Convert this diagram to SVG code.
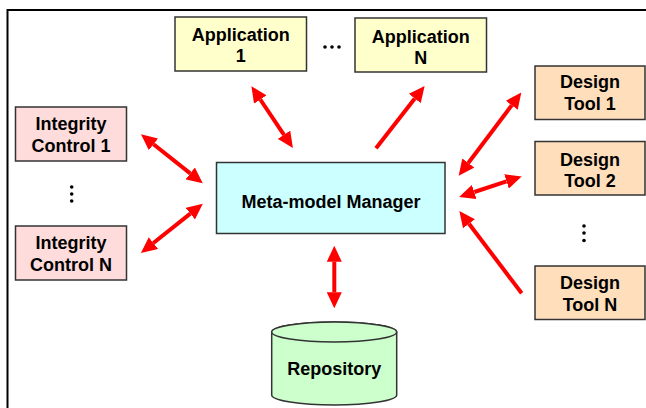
<svg xmlns="http://www.w3.org/2000/svg" width="646" height="408" viewBox="0 0 646 408">
  <style>
    .box { stroke: #333333; stroke-width: 1.5; }
    .lbl { font-family: "Liberation Sans", Arial, sans-serif; font-weight: bold; font-size: 18px; fill: #000000; text-anchor: middle; }
    .app { fill: #FFFFCC; }
    .ic { fill: #FFDCDC; }
    .dt { fill: #FFDEBC; }
    .mmm { fill: #CCFFFF; }
    .repo { fill: #CCFFCC; }
    .arr { stroke: #FF0000; stroke-width: 4; fill: none; }
    .dot { fill: #000000; }
  </style>
  <defs>
    <marker id="head" markerUnits="userSpaceOnUse" markerWidth="16" markerHeight="15" viewBox="0 0 16 15" refX="0" refY="7.5" orient="auto-start-reverse">
      <path d="M0,0 L16,7.5 L0,15 z" fill="#FF0000"/>
    </marker>
  </defs>
  <rect width="646" height="408" fill="#FFFFFF"/>
  <rect x="7.5" y="10" width="700" height="500" fill="none" stroke="#000000" stroke-width="2"/>

  <g id="connectors">
    <line class="arr" x1="260.3" y1="99.5" x2="284.0" y2="134.8" marker-start="url(#head)" marker-end="url(#head)"/>
    <line class="arr" x1="376" y1="148.3" x2="414.8" y2="98.5" marker-end="url(#head)"/>
    <line class="arr" x1="153.5" y1="144.3" x2="190.2" y2="173.4" marker-start="url(#head)" marker-end="url(#head)"/>
    <line class="arr" x1="153.4" y1="243.0" x2="190.3" y2="213.6" marker-start="url(#head)" marker-end="url(#head)"/>
    <line class="arr" x1="511.7" y1="105.3" x2="468.3" y2="163.0" marker-start="url(#head)" marker-end="url(#head)"/>
    <line class="arr" x1="506.5" y1="181.4" x2="474.3" y2="192.0" marker-start="url(#head)" marker-end="url(#head)"/>
    <line class="arr" x1="521.7" y1="293.3" x2="469.0" y2="223.7" marker-end="url(#head)"/>
    <line class="arr" x1="334.3" y1="261.7" x2="334.3" y2="292.3" marker-start="url(#head)" marker-end="url(#head)"/>
  </g>

  <g id="app1">
    <rect class="box app" x="175" y="17" width="131.5" height="54"/>
    <text class="lbl" x="240.7" y="40.7">Application</text>
    <text class="lbl" x="240.7" y="62.3">1</text>
  </g>
  <g id="appN">
    <rect class="box app" x="355" y="18" width="131.5" height="54"/>
    <text class="lbl" x="420.7" y="42.5">Application</text>
    <text class="lbl" x="420.7" y="64">N</text>
  </g>
  <g id="appDots">
    <circle class="dot" cx="325" cy="47" r="1.8"/>
    <circle class="dot" cx="332" cy="47" r="1.8"/>
    <circle class="dot" cx="339" cy="47" r="1.8"/>
  </g>

  <g id="ic1">
    <rect class="box ic" x="15.5" y="107" width="111" height="54"/>
    <text class="lbl" x="71" y="130">Integrity</text>
    <text class="lbl" x="71" y="151.7">Control 1</text>
  </g>
  <g id="icDots">
    <circle class="dot" cx="71.7" cy="187" r="1.8"/>
    <circle class="dot" cx="71.7" cy="194" r="1.8"/>
    <circle class="dot" cx="71.7" cy="201" r="1.8"/>
  </g>
  <g id="icN">
    <rect class="box ic" x="15.5" y="226" width="111" height="54"/>
    <text class="lbl" x="71" y="249.3">Integrity</text>
    <text class="lbl" x="71" y="270.5">Control N</text>
  </g>

  <g id="mmm">
    <rect class="box mmm" x="216.5" y="162.5" width="228.5" height="71"/>
    <text class="lbl" x="331" y="208">Meta-model Manager</text>
  </g>

  <g id="dt1">
    <rect class="box dt" x="535" y="66" width="110" height="53.5"/>
    <text class="lbl" x="590" y="88.3">Design</text>
    <text class="lbl" x="590" y="110">Tool 1</text>
  </g>
  <g id="dt2">
    <rect class="box dt" x="535" y="141.5" width="110" height="53.5"/>
    <text class="lbl" x="590" y="166">Design</text>
    <text class="lbl" x="590" y="187.3">Tool 2</text>
  </g>
  <g id="dtDots">
    <circle class="dot" cx="584" cy="226" r="1.8"/>
    <circle class="dot" cx="584" cy="233" r="1.8"/>
    <circle class="dot" cx="584" cy="240.5" r="1.8"/>
  </g>
  <g id="dtN">
    <rect class="box dt" x="535" y="266" width="110" height="53.5"/>
    <text class="lbl" x="590" y="288.7">Design</text>
    <text class="lbl" x="590" y="310.7">Tool N</text>
  </g>

  <g id="repo">
    <path class="box repo" d="M271.7,332 L271.7,395 A62.5,10 0 0 0 396.7,395 L396.7,332 A62.5,10 0 0 0 271.7,332 Z"/>
    <ellipse class="box repo" cx="334.2" cy="332" rx="62.5" ry="10"/>
    <text class="lbl" x="334.2" y="375">Repository</text>
  </g>
</svg>
